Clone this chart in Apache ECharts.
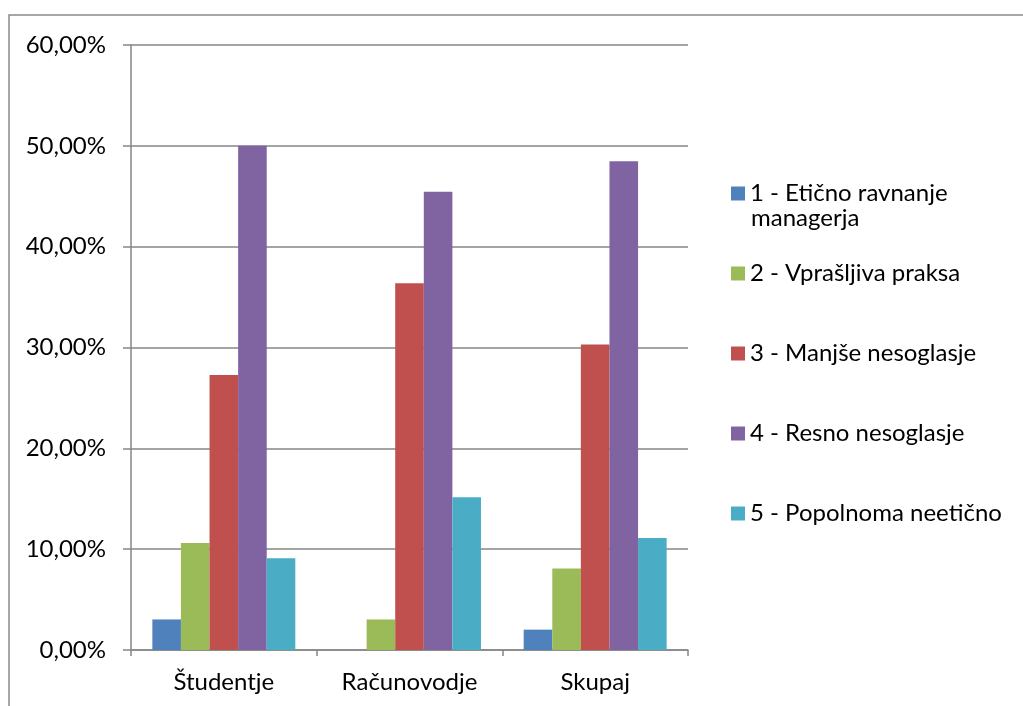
<!DOCTYPE html>
<html>
<head>
<meta charset="utf-8">
<script src="https://cdn.jsdelivr.net/npm/echarts@6/dist/echarts.min.js"></script>
<style>
  html, body { margin: 0; padding: 0; background: #fff; }
  #chart { width: 1023px; height: 706px; }
</style>
</head>
<body>
<div id="chart"></div>
<script>
// Groups on the x axis
const categories = ['Študentje', 'Računovodje', 'Skupaj'];

// Answer options (series) and their shares in percent per group
const seriesNames = [
  '1 - Etično ravnanje managerja',
  '2 - Vprašljiva praksa',
  '3 - Manjše nesoglasje',
  '4 - Resno nesoglasje',
  '5 - Popolnoma neetično'
];
const eticnoRavnanje = [3.03, 0, 2.02];
const vprasljivaPraksa = [10.61, 3.03, 8.08];
const manjseNesoglasje = [27.27, 36.36, 30.30];
const resnoNesoglasje = [50.00, 45.45, 48.48];
const popolnomaNeeticno = [9.09, 15.15, 11.11];
const seriesValues = [eticnoRavnanje, vprasljivaPraksa, manjseNesoglasje, resnoNesoglasje, popolnomaNeeticno];

const colors = ['#4F81BD', '#9BBB59', '#C0504D', '#8064A2', '#4BACC6'];
const FONT = 'Lato';
const FS = 24;
const GRAY = '#868686';

const chart = echarts.init(document.getElementById('chart'), null, { renderer: 'canvas' });

const option = {
  animation: false,
  backgroundColor: '#ffffff',
  color: colors,
  textStyle: { fontFamily: FONT },
  grid: { left: 131, right: 335, top: 45, bottom: 56, containLabel: false },
  xAxis: {
    type: 'category',
    data: categories,
    boundaryGap: true,
    axisLine: { lineStyle: { color: GRAY, width: 1.5 } },
    axisTick: { show: true, length: 6, lineStyle: { color: GRAY, width: 1.5 } },
    axisLabel: { color: '#000', fontSize: FS, fontFamily: FONT, margin: 20 }
  },
  yAxis: {
    type: 'value',
    min: 0,
    max: 60,
    interval: 10,
    axisLine: { show: true, lineStyle: { color: GRAY, width: 1.5 } },
    axisTick: { show: true, length: 8, lineStyle: { color: GRAY, width: 1.5 } },
    splitLine: { lineStyle: { color: GRAY, width: 1.5 } },
    axisLabel: {
      color: '#000',
      fontSize: FS,
      fontFamily: FONT,
      margin: 25,
      formatter: v => v.toFixed(2).replace('.', ',') + '%'
    }
  },
  legend: {
    orient: 'vertical',
    left: 726,
    top: 175,
    itemWidth: 14,
    itemHeight: 14,
    itemGap: 53,
    icon: 'rect',
    data: seriesNames,
    formatter: name => name === seriesNames[0] ? '1 - Etično ravnanje' : name,
    textStyle: { color: '#000', fontSize: FS, fontFamily: FONT, lineHeight: 27, padding: [0, 0, 0, 0] }
  },
  graphic: [
    {
      type: 'rect',
      silent: true,
      shape: { x: 9, y: 15, width: 1200, height: 900 },
      style: { fill: 'none', stroke: '#8a8a8a', lineWidth: 1.5 }
    },
    {
      type: 'text',
      silent: true,
      left: 751,
      top: 206,
      style: { text: 'managerja', fill: '#000', font: FS + 'px ' + FONT }
    }
  ],
  series: seriesNames.map((name, i) => ({
    name: name,
    type: 'bar',
    data: seriesValues[i],
    barGap: '0%',
    barCategoryGap: '23%'
  }))
};

chart.setOption(option);
</script>
</body>
</html>
